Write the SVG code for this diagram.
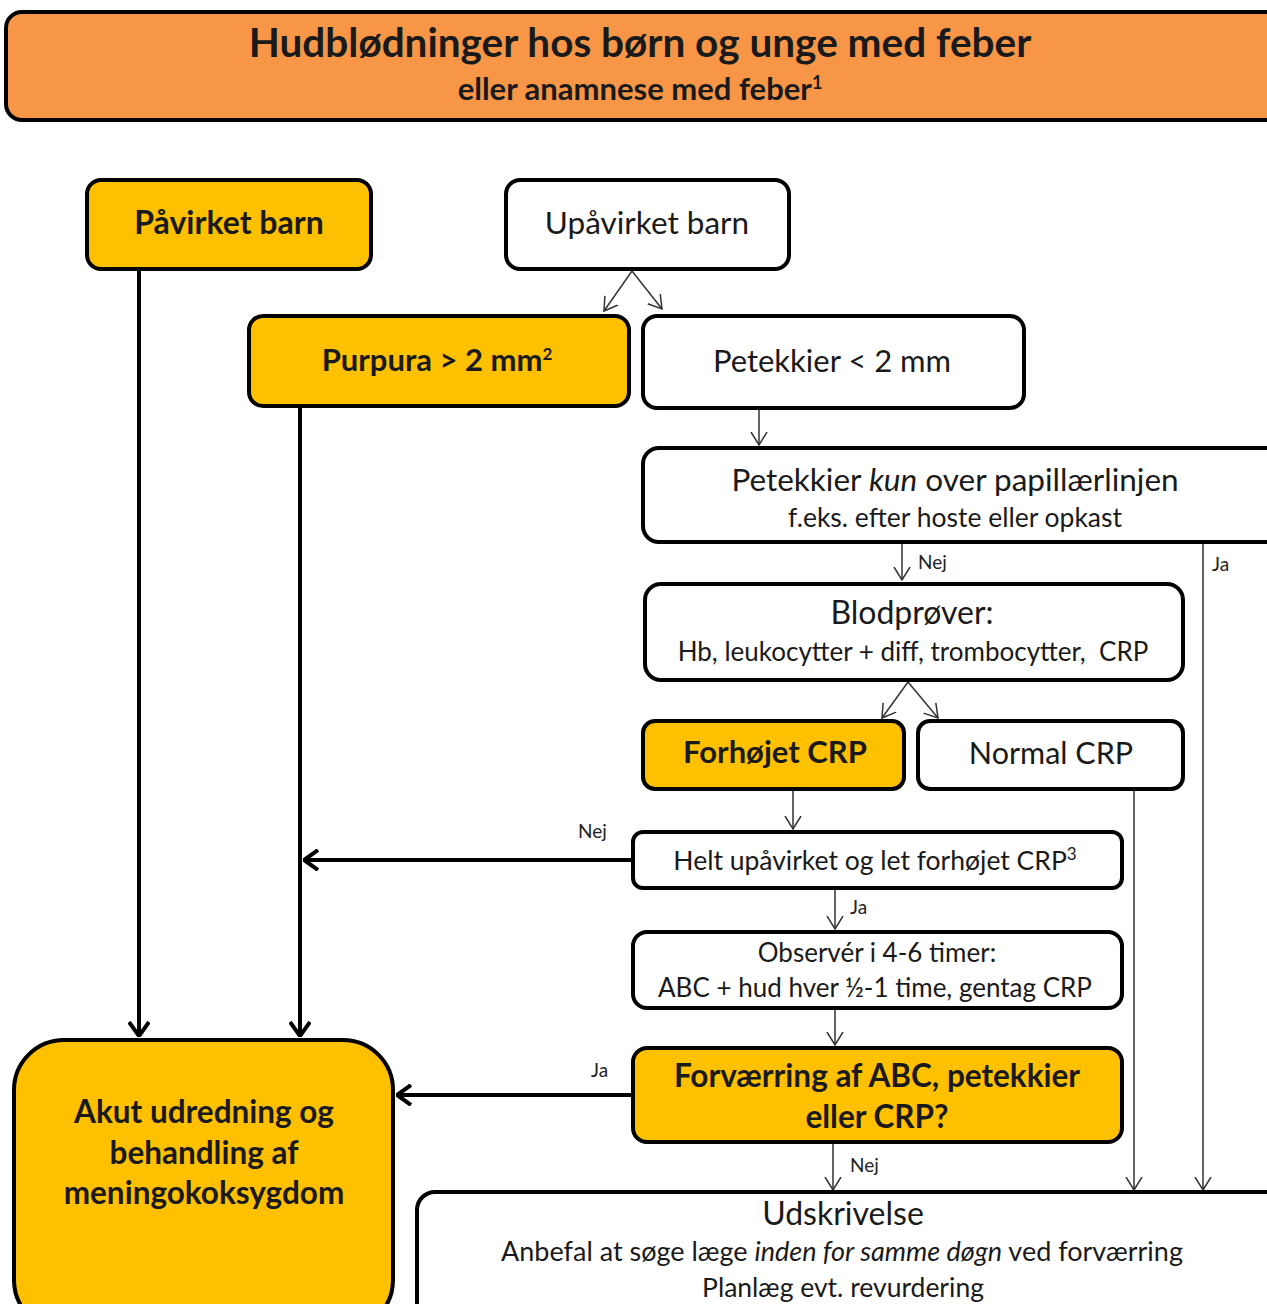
<svg xmlns="http://www.w3.org/2000/svg" width="1267" height="1304" viewBox="0 0 1267 1304">
<style>
.box{stroke:#000;stroke-width:4;}
.y{fill:#FFC000;}
.w{fill:#fff;}
.t{font-family:Lato,"Liberation Sans",sans-serif;fill:#1a1a1a;text-anchor:middle;}
.b{font-weight:bold;}
.thick{stroke:#000;stroke-width:4;fill:none;}
.thin{stroke:#333;stroke-width:1.5;fill:none;}
.lbl{font-family:Lato,"Liberation Sans",sans-serif;fill:#222;font-size:19px;}
</style>
<defs>
<marker id="ak" markerUnits="userSpaceOnUse" viewBox="0 0 16 22" refX="15" refY="11" markerWidth="16" markerHeight="22" orient="auto">
<path d="M1,1 L15,11 L1,21" fill="none" stroke="#000" stroke-width="4"/>
</marker>
<marker id="at" markerUnits="userSpaceOnUse" viewBox="0 0 14 18" refX="13" refY="9" markerWidth="14" markerHeight="18" orient="auto">
<path d="M0,1 L13,9 L0,17" fill="none" stroke="#333" stroke-width="1.5"/>
</marker>
</defs>
<rect width="1267" height="1304" fill="#fff"/>

<g id="title">
<rect class="box" x="6" y="12" width="1290" height="108" rx="16" fill="#F79646"/>
<text class="t b" x="640" y="57" font-size="40.5">Hudblødninger hos børn og unge med feber</text>
<text class="t b" x="640" y="100" font-size="31">eller anamnese med feber<tspan font-size="18" dy="-11">1</tspan></text>
</g>

<g id="connectors">
<line class="thick" x1="139" y1="271" x2="139" y2="1036" marker-end="url(#ak)"/>
<line class="thick" x1="300" y1="408" x2="300" y2="1036" marker-end="url(#ak)"/>
<line class="thin" x1="632" y1="271" x2="604" y2="311" marker-end="url(#at)"/>
<line class="thin" x1="632" y1="271" x2="662" y2="309" marker-end="url(#at)"/>
<line class="thin" x1="759" y1="410" x2="759" y2="445" marker-end="url(#at)"/>
<line class="thin" x1="902" y1="544" x2="902" y2="580" marker-end="url(#at)"/>
<line class="thin" x1="1203" y1="544" x2="1203" y2="1190" marker-end="url(#at)"/>
<line class="thin" x1="908" y1="682" x2="882" y2="718" marker-end="url(#at)"/>
<line class="thin" x1="908" y1="682" x2="938" y2="718" marker-end="url(#at)"/>
<line class="thin" x1="1134" y1="791" x2="1134" y2="1190" marker-end="url(#at)"/>
<line class="thin" x1="793" y1="791" x2="793" y2="829" marker-end="url(#at)"/>
<line class="thick" x1="633" y1="860" x2="304" y2="860" marker-end="url(#ak)"/>
<line class="thin" x1="835" y1="890" x2="835" y2="929" marker-end="url(#at)"/>
<line class="thin" x1="835" y1="1010" x2="835" y2="1045" marker-end="url(#at)"/>
<line class="thick" x1="633" y1="1095" x2="397" y2="1095" marker-end="url(#ak)"/>
<line class="thin" x1="833" y1="1144" x2="833" y2="1190" marker-end="url(#at)"/>
<text class="lbl" x="918" y="569">Nej</text>
<text class="lbl" x="1212" y="571">Ja</text>
<text class="lbl" x="578" y="838">Nej</text>
<text class="lbl" x="850" y="914">Ja</text>
<text class="lbl" x="591" y="1077">Ja</text>
<text class="lbl" x="850" y="1172">Nej</text>
</g>

<g id="pavirket">
<rect class="box y" x="87" y="180" width="284" height="89" rx="14"/>
<text class="t b" x="229" y="234" font-size="32">Påvirket barn</text>
</g>
<g id="upavirket">
<rect class="box w" x="506" y="180" width="283" height="89" rx="14"/>
<text class="t" x="647" y="234" font-size="31.5">Upåvirket barn</text>
</g>
<g id="purpura">
<rect class="box y" x="249" y="316" width="380" height="90" rx="14"/>
<text class="t b" x="437" y="371" font-size="31">Purpura &gt; 2 mm<tspan font-size="17" dy="-11">2</tspan></text>
</g>
<g id="petekkier">
<rect class="box w" x="643" y="316" width="381" height="92" rx="14"/>
<text class="t" x="832" y="372" font-size="31">Petekkier &lt; 2 mm</text>
</g>
<g id="papillaer">
<rect class="box w" x="643" y="448" width="640" height="94" rx="16"/>
<text class="t" x="955" y="491" font-size="31.5">Petekkier <tspan font-style="italic">kun</tspan> over papillærlinjen</text>
<text class="t" x="955" y="527" font-size="26.5">f.eks. efter hoste eller opkast</text>
</g>
<g id="blodprover">
<rect class="box w" x="645" y="584" width="538" height="96" rx="16"/>
<text class="t" x="912" y="624" font-size="32">Blodprøver:</text>
<text class="t" x="913" y="661" font-size="26" xml:space="preserve">Hb, leukocytter + diff, trombocytter,  CRP</text>
</g>
<g id="forhojet">
<rect class="box y" x="643" y="721" width="261" height="68" rx="12"/>
<text class="t b" x="775" y="763" font-size="31">Forhøjet CRP</text>
</g>
<g id="normal">
<rect class="box w" x="918" y="721" width="265" height="68" rx="12"/>
<text class="t" x="1051" y="764" font-size="30.5">Normal CRP</text>
</g>
<g id="helt">
<rect class="box w" x="633" y="832" width="489" height="56" rx="10"/>
<text class="t" x="875" y="870" font-size="26.5">Helt upåvirket og let forhøjet CRP<tspan font-size="17" dy="-10">3</tspan></text>
</g>
<g id="observer">
<rect class="box w" x="633" y="932" width="489" height="76" rx="14"/>
<text class="t" x="877" y="962" font-size="26">Observér i 4-6 timer:</text>
<text class="t" x="875" y="997" font-size="26">ABC + hud hver ½-1 time, gentag CRP</text>
</g>
<g id="forvaerring">
<rect class="box y" x="633" y="1048" width="489" height="94" rx="14"/>
<text class="t b" x="877" y="1087" font-size="31.5">Forværring af ABC, petekkier</text>
<text class="t b" x="877" y="1128" font-size="31.5">eller CRP?</text>
</g>
<g id="udskrivelse">
<rect class="box w" x="417" y="1192" width="870" height="140" rx="18"/>
<text class="t" x="843" y="1225" font-size="32">Udskrivelse</text>
<text class="t" x="842" y="1261" font-size="27">Anbefal at søge læge <tspan font-style="italic">inden for samme døgn</tspan> ved forværring</text>
<text class="t" x="843" y="1297" font-size="26.5">Planlæg evt. revurdering</text>
</g>
<g id="akut">
<rect class="box y" x="14" y="1040" width="379" height="290" rx="50"/>
<text class="t b" x="204" y="1123" font-size="31.5">Akut udredning og</text>
<text class="t b" x="204" y="1164" font-size="31.5">behandling af</text>
<text class="t b" x="204" y="1204" font-size="31.5">meningokoksygdom</text>
</g>
</svg>
